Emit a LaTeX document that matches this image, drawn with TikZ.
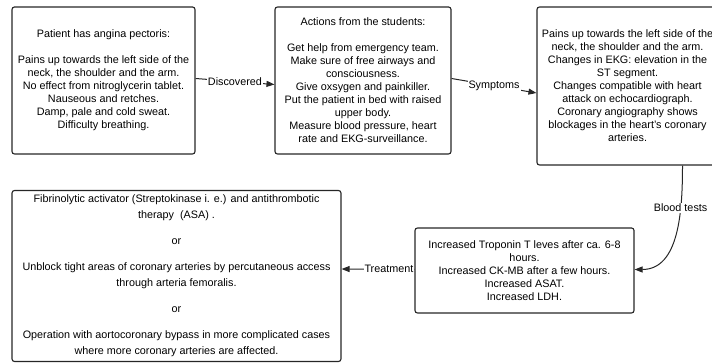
\documentclass[tikz,border=0pt]{standalone}
\usepackage{fontspec}
\setmainfont{Liberation Sans}
\usetikzlibrary{arrows.meta}

\tikzset{
  infobox/.style={draw=black!85,line width=1.1pt,rounded corners=2.5pt,
    align=center,inner sep=0pt,font=\fontsize{10.8}{13}\selectfont},
  flow/.style={draw=black!85,line width=1pt,-{Triangle[length=8pt,width=6pt]}},
  tag/.style={fill=white,inner sep=1pt,font=\fontsize{10.8}{12}\selectfont}
}

\begin{document}
\begin{tikzpicture}[x=1pt,y=1pt]
  \useasboundingbox (0,0) rectangle (712,363);
  \clip (0,0) rectangle (712,363);
  \node[infobox,minimum width=183pt,minimum height=147pt] (patient) at (103.5,282.5)
    {Patient has angina pectoris:\\[13pt]
     Pains up towards the left side of the\\
     neck, the shoulder and the arm.\\
     No effect from nitroglycerin tablet.\\
     Nauseous and retches.\\
     Damp, pale and cold sweat.\\
     Difficulty breathing.};
  \node[infobox,minimum width=176pt,minimum height=147pt] (actions) at (363,282.5)
    {Actions from the students:\\[13pt]
     Get help from emergency team.\\
     Make sure of free airways and\\
     consciousness.\\
     Give oxsygen and painkiller.\\
     Put the patient in bed with raised\\
     upper body.\\
     Measure blood pressure, heart\\
     rate and EKG-surveillance.};
  \node[infobox,minimum width=181pt,minimum height=158pt] (symptoms) at (627.5,277)
    {Pains up towards the left side of the\\
     neck, the shoulder and the arm.\\
     Changes in EKG: elevation in the\\
     ST segment.\\
     Changes compatible with heart\\
     attack on echocardiograph.\\
     Coronary angiography shows\\
     blockages in the heart's coronary\\
     arteries.};
  \node[infobox,minimum width=219pt,minimum height=85pt] (bloodtests) at (524.5,92.5)
    {Increased Troponin T leves after ca. 6-8\\
     hours.\\
     Increased CK-MB after a few hours.\\
     Increased ASAT.\\
     Increased LDH.};
  \node[infobox,minimum width=329pt,minimum height=171pt,
        font=\fontsize{10.8}{16}\selectfont] (treatment) at (176.5,87)
    {Fibrinolytic activator (Streptokinase i. e.) and antithrombotic\\
     therapy\ \ (ASA) .\\[10pt]
     or\\[10pt]
     Unblock tight areas of coronary arteries by percutaneous access\\
     through arteria femoralis.\\[10pt]
     or\\[10pt]
     Operation with aortocoronary bypass in more complicated cases\\
     where more coronary arteries are affected.};

  \draw[flow] ([yshift=2pt]patient.east) -- node[tag] {Discovered} ([yshift=-4pt]actions.west);
  \draw[flow] ([yshift=2pt]actions.east) -- node[tag] {Symptoms} ([yshift=-7pt]symptoms.west);
  \draw[flow] ([xshift=55pt]symptoms.south) to[out=-90,in=0]
    node[tag,pos=0.3] {Blood tests} ([yshift=1pt]bloodtests.east);
  \draw[flow] ([yshift=1pt]bloodtests.west) -- node[tag,pos=0.35] {Treatment} ([yshift=7pt]treatment.east);
\end{tikzpicture}
\end{document}
